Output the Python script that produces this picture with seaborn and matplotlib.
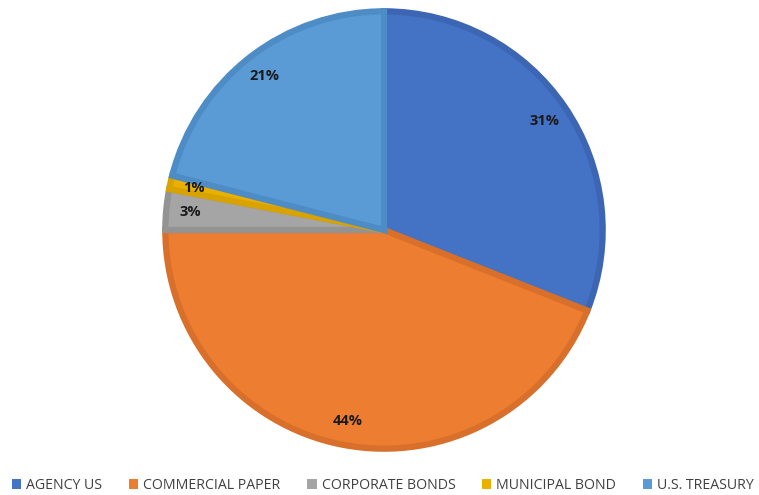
import matplotlib
matplotlib.use("Agg")
import matplotlib.pyplot as plt
from matplotlib.patches import Patch
import seaborn as sns

categories = ["AGENCY US", "COMMERCIAL PAPER", "CORPORATE BONDS", "MUNICIPAL BOND", "U.S. TREASURY"]
shares = [31, 44, 3, 1, 21]
fill_colors = ["#4472C4", "#ED7D31", "#A5A5A5", "#EAB000", "#5B9BD5"]
edge_colors = ["#3C66B4", "#D86F2A", "#939393", "#D8A300", "#4E8CC6"]

sns.set_theme(style="white")
plt.rcParams["font.family"] = ["Open Sans", "DejaVu Sans"]

fig = plt.figure(figsize=(7.59, 4.95), dpi=100)
ax = fig.add_axes([162 / 759, 43 / 495, 444 / 759, 444 / 495])

palette = sns.color_palette(fill_colors)
wedges, texts, autotexts = ax.pie(
    shares,
    colors=palette,
    startangle=90,
    counterclock=False,
    radius=0.985,
    autopct=lambda p: f"{p:.0f}%",
    pctdistance=0.89,
    wedgeprops=dict(linewidth=4.5, joinstyle="miter"),
    textprops=dict(fontsize=10.5, fontweight="bold", color="#1a1a1a"),
)
for w, ec in zip(wedges, edge_colors):
    w.set_edgecolor(ec)
    w.set_clip_on(False)
ax.set_xlim(-1.0, 1.0)
ax.set_ylim(-1.0, 1.0)
ax.set_aspect("equal")
ax.axis("off")

handles = [Patch(facecolor=c, edgecolor="none") for c in fill_colors]
fig.legend(
    handles,
    categories,
    loc="lower center",
    bbox_to_anchor=(0.5046, -0.022),
    ncol=5,
    frameon=False,
    fontsize=10.2,
    handlelength=0.65,
    handleheight=0.65,
    handletextpad=0.35,
    columnspacing=1.9,
    labelcolor="#404040",
)

fig.savefig("out.png", dpi=100)
